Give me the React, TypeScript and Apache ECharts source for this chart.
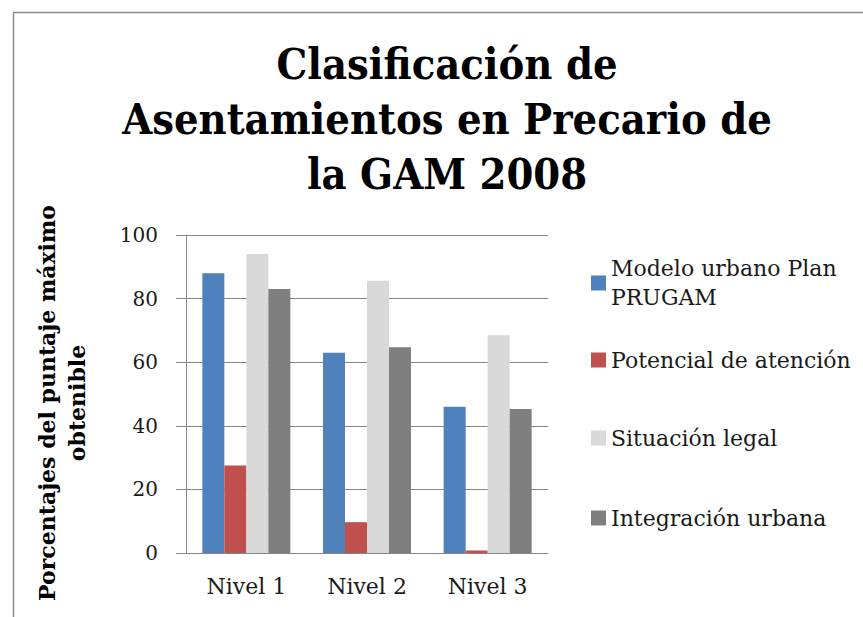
import React, { useEffect, useRef } from "react";
import * as echarts from "echarts";

const categories = ["Nivel 1", "Nivel 2", "Nivel 3"];
const seriesNames = [
  "Modelo urbano Plan PRUGAM",
  "Potencial de atención",
  "Situación legal",
  "Integración urbana",
];
const modeloUrbano = [88, 63, 46];
const potencialAtencion = [27.5, 9.7, 0.8];
const situacionLegal = [94, 85.6, 68.5];
const integracionUrbana = [83, 64.7, 45.3];
const yTicks = { min: 0, max: 100, interval: 20 };
const titleText = "Clasificación de\nAsentamientos en Precario de\nla GAM 2008";
const yAxisTitle = "Porcentajes del puntaje máximo\nobtenible";

const colors = ["#4F81BD", "#C0504D", "#D9D9D9", "#7F7F7F"];
const FONT = "DejaVu Serif";
const COND = "'DejaVu Serif Condensed', 'DejaVu Serif'";
const TXT = "#1a1a1a";
const GRID = "#868686";

export default function App() {
  const ref = useRef<HTMLDivElement>(null);
  useEffect(() => {
    document.body.style.margin = "0";
    const chart = echarts.init(ref.current!, null, { renderer: "svg" });
    const values = [modeloUrbano, potencialAtencion, situacionLegal, integracionUrbana];
    const legendCenters = [283, 360, 438, 518];
    const legends = seriesNames.map((name, i) => {
      const first = i === 0;
      return {
        data: [name],
        orient: "vertical" as const,
        left: 591,
        top: first ? legendCenters[i] - 43.5 : legendCenters[i] - 13,
        padding: 0,
        itemWidth: 15,
        itemHeight: 15,
        icon: "rect",
        selectedMode: false,
        formatter: first ? () => "Modelo urbano Plan\nPRUGAM" : undefined,
        textStyle: first
          ? { fontFamily: FONT, fontSize: 22, color: TXT, lineHeight: 29, padding: [29, 0, 0, 0] }
          : { fontFamily: FONT, fontSize: 22, color: TXT, lineHeight: 26 },
      };
    });
    chart.setOption({
      animation: false,
      color: colors,
      graphic: [
        {
          type: "rect",
          shape: { x: 13.5, y: 12.5, width: 900, height: 700 },
          style: { fill: "none", stroke: "#8c8c8c", lineWidth: 1.5 },
          silent: true,
        },
        {
          type: "text",
          x: 447,
          y: 36,
          style: {
            text: titleText,
            fontFamily: COND,
            fontWeight: "bold",
            fontSize: 43,
            lineHeight: 55,
            fill: "#000",
            align: "center",
            verticalAlign: "top",
          },
        },
      ],
      legend: legends,
      grid: { left: 186, top: 235, width: 362, height: 318, containLabel: false },
      xAxis: {
        type: "category",
        data: categories,
        axisLine: { lineStyle: { color: GRID, width: 1 } },
        axisTick: { show: false },
        axisLabel: { fontFamily: FONT, fontSize: 22, color: TXT, margin: 22 },
      },
      yAxis: {
        type: "value",
        min: yTicks.min,
        max: yTicks.max,
        interval: yTicks.interval,
        name: yAxisTitle,
        nameLocation: "middle",
        nameGap: 94,
        nameRotate: 90,
        nameTextStyle: {
          fontFamily: FONT,
          fontWeight: "bold",
          fontSize: 22,
          lineHeight: 30,
          color: "#000",
          align: "center",
          padding: [0, 18, 0, 0],
        },
        axisLine: { show: true, lineStyle: { color: GRID, width: 1 } },
        axisTick: { show: true, length: 10, lineStyle: { color: GRID } },
        splitLine: { lineStyle: { color: GRID, width: 1 } },
        axisLabel: { fontFamily: FONT, fontSize: 20, color: TXT, margin: 28 },
      },
      series: seriesNames.map((name, i) => ({
        name,
        type: "bar",
        data: values[i],
        barWidth: 22,
        barGap: "0%",
      })),
    });
    return () => chart.dispose();
  }, []);
  return <div ref={ref} style={{ width: 863, height: 617 }} />;
}
